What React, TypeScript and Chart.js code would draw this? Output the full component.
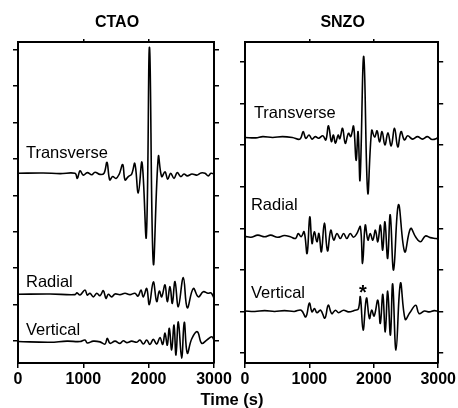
import React, { useEffect, useRef } from "react";
import { Chart, registerables } from "chart.js";

Chart.register(...registerables);

// ---------- axes ----------
const X_TICKS = [0, 1000, 2000, 3000];
const X_TOP_TICKS = [1000, 2000];
const CTAO_Y_TICKS = [0, 1, 2, 3, 4, 5, 6, 7, 8];
const SNZO_Y_TICKS = [0, 1, 2, 3, 4, 5, 6, 7];
const COMPONENTS = ["Transverse", "Radial", "Vertical"];
const STATIONS = ["CTAO", "SNZO"];
const X_TITLE = "Time (s)";

// ---------- CTAO traces: [time (s), amplitude] ----------
const CTAO_TRANSVERSE = [
  [0, 0], [383, 0.01], [643, -0.01], [872, 0], [908, -0.14], [949, 0.07], [999, -0.05],
  [1061, 0.02], [1128, -0.04], [1179, 0.03], [1255, -0.03], [1316, 0], [1362, 0.3],
  [1404, -0.18], [1449, -0.09], [1500, -0.14], [1550, -0.02], [1603, 0.24], [1638, -0.18],
  [1688, -0.09], [1740, -0.02], [1788, 0.27], [1841, -0.54], [1898, 0.3], [1964, -1.74],
  [2013, 3.46], [2071, -2.47], [2148, 0.46], [2199, -0.09], [2250, 0.04], [2291, -0.16],
  [2337, 0], [2388, -0.14], [2438, 0.02], [2490, -0.09], [2541, -0.02], [2591, -0.07],
  [2663, -0.02], [2735, -0.05], [2801, 0.01], [2862, 0], [2913, -0.07], [2954, 0], [3000, -0.02],
];
const CTAO_RADIAL = [
  [0, 0], [490, 0.01], [872, -0.01], [903, 0.04], [949, -0.02], [1025, 0.12], [1061, -0.02],
  [1102, 0.03], [1153, -0.07], [1205, 0.03], [1255, -0.04], [1306, 0.1], [1347, -0.11],
  [1382, 0], [1434, -0.07], [1485, 0.01], [1561, -0.01], [1638, 0.03], [1714, -0.01],
  [1791, 0.03], [1837, -0.05], [1883, 0.12], [1918, -0.07], [1970, 0.16], [2010, -0.28],
  [2071, 0.34], [2123, -0.2], [2163, 0.09], [2199, -0.07], [2250, 0.26], [2285, -0.2],
  [2327, 0.21], [2362, -0.25], [2403, 0.35], [2454, -0.34], [2530, 0.46], [2591, -0.37],
  [2683, 0.16], [2760, -0.07], [2836, 0.07], [2908, 0.03], [2954, 0.04], [3000, -0.1],
];
const CTAO_VERTICAL = [
  [0, 0], [490, -0.02], [750, 0.01], [949, 0], [1025, 0.04], [1061, -0.04], [1153, 0.01],
  [1255, -0.01], [1332, -0.07], [1367, 0.09], [1408, -0.05], [1485, 0.01], [1561, -0.05],
  [1612, 0.02], [1664, -0.03], [1740, 0.01], [1817, -0.02], [1867, 0.04], [1918, -0.07],
  [1970, 0.04], [2020, -0.08], [2071, 0.06], [2123, -0.07], [2173, 0.11], [2215, -0.08],
  [2250, 0.23], [2285, -0.1], [2316, 0.36], [2352, -0.23], [2388, 0.45], [2418, -0.37],
  [2454, 0.54], [2505, -0.46], [2545, 0.53], [2591, -0.32], [2658, 0.07], [2744, 0.27],
  [2812, -0.05], [2888, 0.04], [2965, 0.13], [3000, 0.04],
];

// ---------- SNZO traces: [time (s), amplitude] ----------
const SNZO_TRANSVERSE = [
  [0, 0], [168, -0.01], [276, 0.02], [429, 0], [582, 0.02], [735, 0], [853, -0.04], [903, 0.14],
  [944, -0.02], [995, 0.06], [1041, -0.04], [1091, 0.02], [1143, -0.02], [1209, 0.04],
  [1255, -0.06], [1296, 0.28], [1342, -0.1], [1373, 0.06], [1404, -0.14], [1446, 0.06],
  [1472, -0.03], [1515, 0.22], [1557, -0.14], [1607, 0.1], [1642, 0.02], [1686, 0.27],
  [1725, -0.55], [1756, 0.14], [1786, -1.02], [1844, 1.95], [1906, -1.33], [1967, 0.17],
  [2013, 0.01], [2051, 0.16], [2089, -0.11], [2128, 0.14], [2173, -0.18], [2219, 0.11],
  [2270, -0.2], [2322, 0.22], [2372, -0.23], [2423, 0.14], [2475, -0.06], [2526, 0.04],
  [2602, -0.04], [2679, 0.02], [2755, -0.04], [2832, 0.02], [2908, -0.05], [3000, -0.01],
];
const SNZO_RADIAL = [
  [0, -0.01], [92, -0.03], [199, 0.02], [306, -0.02], [398, 0.02], [505, -0.03], [612, 0.01],
  [704, -0.02], [785, -0.06], [827, 0.06], [872, -0.02], [918, 0.1], [964, -0.42], [1006, 0.46],
  [1041, -0.18], [1076, 0.1], [1117, -0.14], [1148, 0.06], [1186, -0.38], [1232, 0.31],
  [1281, -0.36], [1332, 0.14], [1378, -0.1], [1428, 0.06], [1480, -0.06], [1531, 0.06],
  [1581, -0.06], [1633, 0.06], [1684, -0.03], [1734, 0.05], [1791, 0.22], [1826, -0.66],
  [1867, 0.26], [1909, -0.1], [1944, 0.06], [1985, -0.1], [2025, 0.14], [2062, -0.14],
  [2102, 0.26], [2138, -0.34], [2173, 0.34], [2215, -0.54], [2255, 0.51], [2307, -0.82],
  [2383, 0.75], [2480, -0.38], [2571, 0.18], [2648, -0.02], [2724, -0.14], [2801, 0],
  [2877, -0.04], [2965, -0.06], [3000, -0.07],
];
const SNZO_VERTICAL = [
  [0, 0], [153, -0.01], [306, 0.01], [459, -0.01], [612, 0.01], [765, -0.01], [872, 0.02],
  [944, -0.14], [999, 0.19], [1041, -0.02], [1079, 0.06], [1117, -0.04], [1174, 0.02],
  [1240, -0.17], [1293, 0.14], [1347, -0.06], [1404, 0.02], [1454, -0.04], [1531, 0.02],
  [1607, -0.02], [1710, 0.02], [1760, 0.05], [1791, 0.34], [1834, -0.46], [1886, 0.31],
  [1932, -0.18], [1967, 0.02], [2005, -0.12], [2063, 0.26], [2101, -0.3], [2140, 0.4],
  [2178, -0.5], [2216, 0.48], [2258, -0.58], [2293, 0.65], [2345, -0.94], [2414, 0.67],
  [2487, -0.2], [2556, -0.05], [2651, 0.14], [2702, -0.06], [2786, 0], [2862, -0.02],
  [2939, 0.01], [3000, -0.01],
];

// trace baselines (in y-axis units)
const CTAO_OFFSETS = [4.607, 1.283, -0.014];
const SNZO_OFFSETS = [5.184, 2.815, 1.01];
// label anchor points [time, y]
const CTAO_LABEL_AT = [[122, 5.03], [122, 1.48], [122, 0.16]];
const SNZO_LABEL_AT = [[138, 5.65], [92, 3.44], [92, 1.32]];
const SNZO_MARK_AT = [1829, 1.54];

const FONT = '"Liberation Sans", Arial, Helvetica, sans-serif';

const overlayPlugin = {
  id: "overlay",
  afterDraw(chart: any, _args: any, opts: any) {
    const { ctx, chartArea, scales } = chart;
    const xs = scales.x;
    const ys = scales.y;
    ctx.save();
    ctx.fillStyle = "#000";
    ctx.textBaseline = "alphabetic";
    ctx.textAlign = "center";
    ctx.font = `bold 16px ${FONT}`;
    ctx.fillText(opts.title, (chartArea.left + chartArea.right) / 2 + 1, 27);
    if (opts.xTitle) {
      ctx.font = `bold 16.5px ${FONT}`;
      ctx.fillText(opts.xTitle, 232, 405);
    }
    ctx.textAlign = "left";
    ctx.font = `16.5px ${FONT}`;
    opts.labels.forEach((lab: string, i: number) => {
      const [t, v] = opts.labelAt[i];
      ctx.fillText(lab, xs.getPixelForValue(t), ys.getPixelForValue(v));
    });
    if (opts.mark) {
      ctx.font = `bold 20px ${FONT}`;
      ctx.textAlign = "center";
      const m = ctx.measureText("*");
      const px = xs.getPixelForValue(opts.mark[0]);
      const py = ys.getPixelForValue(opts.mark[1]);
      const base = py + (m.actualBoundingBoxAscent - m.actualBoundingBoxDescent) / 2;
      ctx.fillText("*", px, base);
    }
    ctx.restore();
  },
};

function makeConfig(
  traces: number[][][],
  offsets: number[],
  yTicks: number[],
  yMin: number,
  yMax: number,
  leftW: number,
  rightW: number,
  plug: any
) {
  const datasets = traces.map((tr, i) => ({
    label: COMPONENTS[i],
    data: tr.map(([t, a]) => ({ x: t, y: a + offsets[i] })),
    borderColor: "#000",
    borderWidth: 1.6,
    pointRadius: 0,
    tension: 0.4,
    fill: false,
  }));
  const grid = {
    display: true,
    drawOnChartArea: false,
    drawTicks: true,
    tickLength: 5,
    color: "#000",
    lineWidth: 1.5,
  };
  const border = { display: true, color: "#000", width: 2 };
  return {
    type: "line",
    data: { datasets },
    options: {
      animation: false,
      responsive: false,
      devicePixelRatio: 1,
      events: [],
      layout: { padding: 0, autoPadding: false },
      plugins: { legend: { display: false }, tooltip: { enabled: false }, title: { display: false }, overlay: plug },
      scales: {
        x: {
          type: "linear",
          position: "bottom",
          min: 0,
          max: 3000,
          grid,
          border,
          afterBuildTicks: (s: any) => { s.ticks = X_TICKS.map((v) => ({ value: v })); },
          afterFit: (s: any) => { s.height = 45; },
          ticks: {
            autoSkip: false,
            maxRotation: 0,
            minRotation: 0,
            padding: 2,
            color: "#000",
            font: { family: FONT, size: 16, weight: "bold" },
            callback: (v: any) => String(v),
          },
        },
        xTop: {
          type: "linear",
          position: "top",
          min: 0,
          max: 3000,
          grid: { ...grid, tickLength: 3 },
          border,
          afterBuildTicks: (s: any) => { s.ticks = X_TOP_TICKS.map((v) => ({ value: v })); },
          afterFit: (s: any) => { s.height = 42; },
          ticks: { display: false },
        },
        y: {
          type: "linear",
          position: "left",
          min: yMin,
          max: yMax,
          grid,
          border,
          afterBuildTicks: (s: any) => { s.ticks = yTicks.map((v) => ({ value: v })); },
          afterFit: (s: any) => { s.width = leftW; },
          ticks: { display: false },
        },
        yRight: {
          type: "linear",
          position: "right",
          min: yMin,
          max: yMax,
          grid,
          border,
          afterBuildTicks: (s: any) => { s.ticks = yTicks.map((v) => ({ value: v })); },
          afterFit: (s: any) => { s.width = rightW; },
          ticks: { display: false },
        },
      },
    },
    plugins: [overlayPlugin],
  };
}

export default function App() {
  const leftRef = useRef<HTMLCanvasElement | null>(null);
  const rightRef = useRef<HTMLCanvasElement | null>(null);

  useEffect(() => {
    const left = new Chart(
      leftRef.current as HTMLCanvasElement,
      makeConfig(
        [CTAO_TRANSVERSE, CTAO_RADIAL, CTAO_VERTICAL],
        CTAO_OFFSETS,
        CTAO_Y_TICKS,
        -0.604,
        8.214,
        18,
        244,
        { title: STATIONS[0], labels: COMPONENTS, labelAt: CTAO_LABEL_AT, xTitle: X_TITLE }
      ) as any
    );
    const right = new Chart(
      rightRef.current as HTMLCanvasElement,
      makeConfig(
        [SNZO_TRANSVERSE, SNZO_RADIAL, SNZO_VERTICAL],
        SNZO_OFFSETS,
        SNZO_Y_TICKS,
        -0.24,
        7.48,
        245,
        17,
        { title: STATIONS[1], labels: COMPONENTS, labelAt: SNZO_LABEL_AT, mark: SNZO_MARK_AT }
      ) as any
    );
    return () => {
      left.destroy();
      right.destroy();
    };
  }, []);

  const cs: React.CSSProperties = { position: "absolute", left: 0, top: 0, width: 458, height: 408 };
  return (
    <div style={{ position: "absolute", left: 0, top: 0, width: 458, height: 408, background: "#fff" }}>
      <canvas ref={leftRef} width={458} height={408} style={cs} />
      <canvas ref={rightRef} width={458} height={408} style={cs} />
    </div>
  );
}
